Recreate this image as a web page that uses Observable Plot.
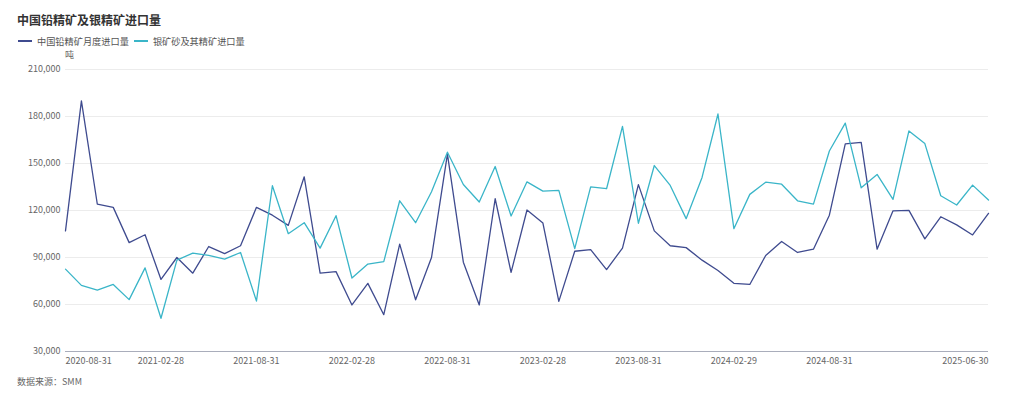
<!DOCTYPE html>
<html>
<head>
<meta charset="utf-8">
<script src="https://cdn.jsdelivr.net/npm/d3@7"></script>
<script src="https://cdn.jsdelivr.net/npm/@observablehq/plot@0.6"></script>
<style>
  html, body { margin: 0; padding: 0; background: #fff; }
  body { width: 1024px; height: 399px; position: relative; overflow: hidden;
         font-family: "Noto Sans CJK SC", "Noto Sans", sans-serif; }
  #title { position: absolute; left: 17px; top: 11px; font-size: 12px; font-weight: bold; color: #333; }
  #legend { position: absolute; left: 18px; top: 34px; font-size: 9.2px; color: #555; display: flex; align-items: center; }
  .sw { display: inline-block; width: 14px; height: 2px; margin-right: 5px; }
  .item { display: flex; align-items: center; margin-right: 5px; }
  #unit { position: absolute; left: 65px; top: 48px; font-size: 9px; color: #666; z-index: 2; }
  #chart { position: absolute; left: 0; top: 46px; z-index: 1; }
  #caption { position: absolute; left: 17px; top: 375px; font-size: 9px; color: #666; }
</style>
</head>
<body>
<div id="title">中国铅精矿及银精矿进口量</div>
<div id="legend"></div>
<div id="unit">吨</div>
<div id="chart"></div>
<div id="caption">数据来源：SMM</div>
<script>
const dates = [
  "2020-08-31","2020-09-30","2020-10-31","2020-11-30","2020-12-31",
  "2021-01-31","2021-02-28","2021-03-31","2021-04-30","2021-05-31","2021-06-30","2021-07-31","2021-08-31","2021-09-30","2021-10-31","2021-11-30","2021-12-31",
  "2022-01-31","2022-02-28","2022-03-31","2022-04-30","2022-05-31","2022-06-30","2022-07-31","2022-08-31","2022-09-30","2022-10-31","2022-11-30","2022-12-31",
  "2023-01-31","2023-02-28","2023-03-31","2023-04-30","2023-05-31","2023-06-30","2023-07-31","2023-08-31","2023-09-30","2023-10-31","2023-11-30","2023-12-31",
  "2024-01-31","2024-02-29","2024-03-31","2024-04-30","2024-05-31","2024-06-30","2024-07-31","2024-08-31","2024-09-30","2024-10-31","2024-11-30","2024-12-31",
  "2025-01-31","2025-02-28","2025-03-31","2025-04-30","2025-05-31","2025-06-30"
];
const seriesNames = ["中国铅精矿月度进口量", "银矿砂及其精矿进口量"];
const seriesColors = ["#3f4b8f", "#3ab5c8"];
const leadValues = [
  107000,190000,124000,122000,99500,104500,76000,90000,80000,97000,
  92500,97500,122000,117000,110500,141500,80000,81000,59700,73500,
  53500,98500,63000,90000,156000,87000,59700,127500,80500,120300,
  112000,62000,94000,95000,82300,96000,136500,107000,97500,96300,
  88300,81700,73500,72800,91300,100200,93200,95300,117000,162500,
  163500,95300,119800,120100,101900,116000,110800,104400,118200
];
const silverValues = [
  82600,72200,69200,72800,63100,83400,51200,88300,92800,91300,
  89000,93200,62200,135800,105200,112200,96000,116700,76900,85800,
  87400,126200,112200,132000,157200,136600,125400,148100,116500,138300,
  132400,132800,95700,135100,133900,173700,111850,148700,136000,114800,
  141100,181600,108400,130300,138100,136800,126200,124100,158000,175800,
  134500,143000,127100,170800,162700,129400,123500,136200,126700
];
const yTicks = [30000, 60000, 90000, 120000, 150000, 180000, 210000];
const xTickLabels = ["2020-08-31","2021-02-28","2021-08-31","2022-02-28","2022-08-31","2023-02-28","2023-08-31","2024-02-29","2024-08-31","2025-06-30"];

const rows = [];
dates.forEach((d, i) => {
  rows.push({date: d, value: leadValues[i], series: seriesNames[0]});
  rows.push({date: d, value: silverValues[i], series: seriesNames[1]});
});

// legend
const leg = document.getElementById("legend");
seriesNames.forEach((n, i) => {
  const it = document.createElement("span");
  it.className = "item";
  it.innerHTML = `<span class="sw" style="background:${seriesColors[i]}"></span>${n}`;
  leg.appendChild(it);
});

const fmt = d3.format(",");
const firstLbl = xTickLabels.slice(0, 1);
const midLbl = xTickLabels.slice(1, -1);
const lastLbl = xTickLabels.slice(-1);

const chart = Plot.plot({
  width: 1024,
  height: 329,
  marginTop: 23,
  marginBottom: 24,
  marginLeft: 65,
  marginRight: 36,
  style: {fontFamily: '"Noto Sans CJK SC", "Noto Sans", sans-serif', fontSize: "9px", color: "#666", background: "transparent"},
  x: {type: "point", domain: dates, padding: 0, axis: null},
  y: {domain: [30000, 210000], axis: null},
  color: {domain: seriesNames, range: seriesColors},
  marks: [
    Plot.gridY(yTicks, {stroke: "#ececec", strokeOpacity: 1}),
    Plot.axisY(yTicks, {tickSize: 0, tickPadding: 5, tickFormat: fmt, label: null, fill: "#666"}),
    Plot.ruleY([30000], {stroke: "#a9adbb", strokeWidth: 1}),
    Plot.line(rows, {x: "date", y: "value", z: "series", stroke: "series", strokeWidth: 1.3}),
    Plot.text(firstLbl, {x: d => d, frameAnchor: "bottom", dy: 12, textAnchor: "start", fill: "#666"}),
    Plot.text(midLbl, {x: d => d, frameAnchor: "bottom", dy: 12, textAnchor: "middle", fill: "#666"}),
    Plot.text(lastLbl, {x: d => d, frameAnchor: "bottom", dy: 12, textAnchor: "end", fill: "#666"})
  ]
});
document.getElementById("chart").appendChild(chart);
</script>
</body>
</html>
